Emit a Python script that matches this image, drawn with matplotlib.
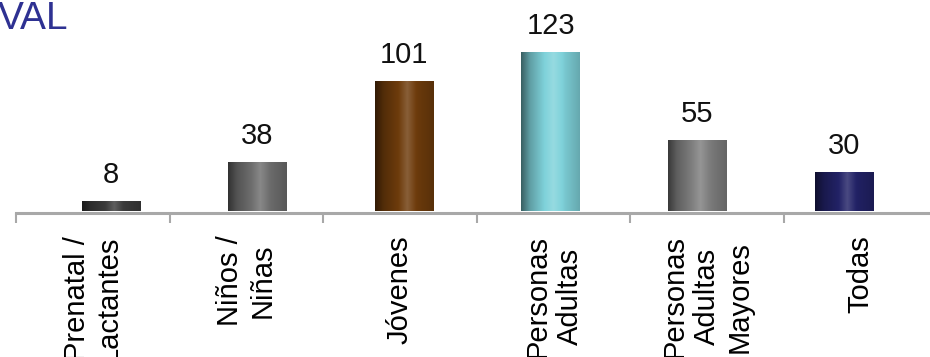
import numpy as np
import matplotlib
matplotlib.use("Agg")
import matplotlib.pyplot as plt
from matplotlib.colors import to_rgb

plt.rcParams['font.family'] = ['Liberation Sans', 'DejaVu Sans']

categories = ["Prenatal /\nLactantes", "Niños /\nNiñas", "Jóvenes",
              "Personas\nAdultas", "Personas\nAdultas\nMayores", "Todas"]
values = [8, 38, 101, 123, 55, 30]
bar_colors = ['#3c3c3c', '#6e6e6e', '#6e3c0c', '#7fd2da', '#7e7e7e', '#222266']

W, H = 930, 357
fig = plt.figure(figsize=(W / 100, H / 100), dpi=100)


def px_box(left, top, width, height):
    # pixel box (from top-left) -> figure fraction
    return [left / W, (H - top - height) / H, width / W, height / H]


# category axis (perspective makes it wider than the bar row)
ax = fig.add_axes(px_box(16, 0, 6 * 153.6, 213))
ax.set_xlim(-0.5, 5.5)
ax.set_ylim(0, 1)
for s in ['top', 'right', 'left']:
    ax.spines[s].set_visible(False)
ax.spines['bottom'].set_color('#a8a8a8')
ax.spines['bottom'].set_linewidth(2.2)
ax.set_yticks([])
ax.set_xticks(range(len(categories)))
ax.set_xticklabels(categories)
ax.set_xticks(np.arange(-0.5, 6, 1), minor=True)
ax.tick_params(axis='x', which='major', length=0, pad=16)
ax.tick_params(axis='x', which='minor', length=7, width=1.5, color='#a8a8a8')
plt.setp(ax.get_xticklabels(), rotation=90, ha='center', va='top',
         multialignment='center', fontsize=21, linespacing=1.2)

# bars
scale = 1.29
axb = fig.add_axes(px_box(111 - 73.3, 0, 6 * 146.6, 211))
axb.set_xlim(-0.5, 5.5)
axb.set_ylim(0, 211 / scale)
axb.axis('off')

x = np.arange(len(values))
bars = axb.bar(x, values, width=0.40, color='none', edgecolor='none')

t = np.linspace(0, 1, 200)
shade = np.interp(t, [0, 0.15, 0.55, 0.75, 1.0], [0.45, 0.75, 1.15, 0.95, 0.8])
for b, c in zip(bars, bar_colors):
    base = np.array(to_rgb(c))
    rows = []
    for f in shade:
        if f <= 1:
            rows.append(base * f)
        else:
            rows.append(base + (1 - base) * (f - 1) * 1.2)
    img = np.clip(np.array(rows), 0, 1)[None, :, :]
    im = axb.imshow(img, extent=[b.get_x(), b.get_x() + b.get_width(), 0, b.get_height()],
                    aspect='auto', zorder=2)
    im.set_clip_path(b)

for b, v in zip(bars, values):
    axb.annotate(str(v), (b.get_x() + b.get_width() / 2, v),
                 xytext=(0, 13), textcoords='offset points',
                 ha='center', va='baseline', fontsize=21, color='#111111')

# cropped slide heading
fig.text(-2 / W, 1 - 29 / H, "VAL", fontsize=28, color='#2e3192',
         ha='left', va='baseline')

fig.savefig("out.png", dpi=100)
